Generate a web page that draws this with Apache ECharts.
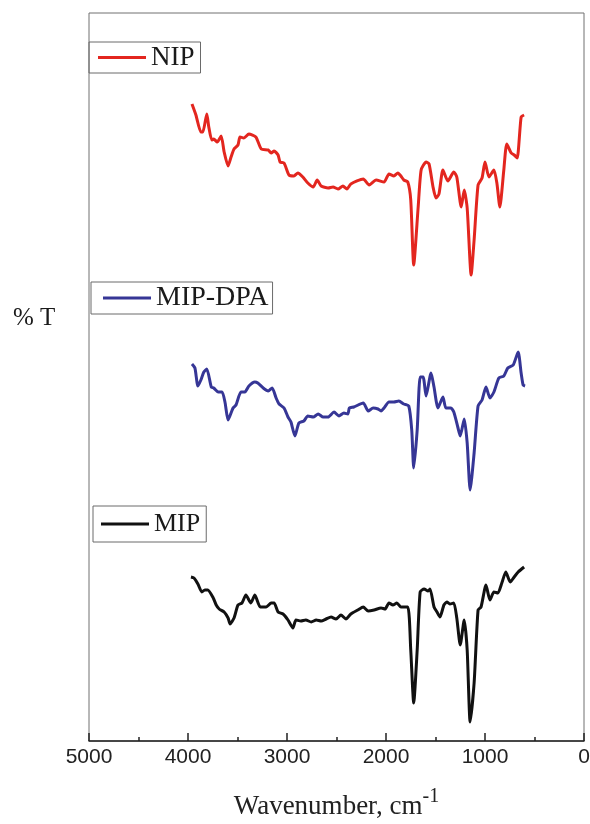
<!DOCTYPE html>
<html>
<head>
<meta charset="utf-8">
<script src="https://cdn.jsdelivr.net/npm/echarts@6/dist/echarts.min.js"></script>
<style>
  html, body { margin: 0; padding: 0; background: #fff; }
  #chart { width: 590px; height: 824px; }
</style>
</head>
<body>
<div id="chart"></div>
<script>
// wavenumber (cm-1) and offset %T readings, one pair of arrays per spectrum
var nipWn = [3960, 3920, 3870, 3850, 3810, 3790, 3760, 3740, 3705, 3665, 3635, 3595, 3565, 3535, 3495, 3475, 3435, 3385, 3315, 3260, 3190, 3160, 3130, 3090, 3070, 3030, 2980, 2930, 2890, 2840, 2790, 2735, 2695, 2655, 2585, 2535, 2485, 2435, 2395, 2355, 2230, 2170, 2100, 2020, 1970, 1920, 1880, 1850, 1820, 1780, 1750, 1720, 1675, 1645, 1595, 1565, 1525, 1495, 1465, 1425, 1375, 1315, 1285, 1240, 1210, 1180, 1140, 1110, 1070, 1030, 1000, 960, 910, 880, 850, 810, 780, 735, 705, 675, 635, 605];
var nipT = [63.7, 62.6, 60.9, 60.9, 62.7, 61.4, 60.1, 60.2, 59.9, 60.5, 58.9, 57.5, 58.4, 59.2, 59.6, 60.4, 60.3, 60.7, 60.4, 59.2, 59.1, 58.8, 59.0, 58.6, 57.9, 57.8, 56.6, 56.5, 56.8, 56.4, 55.8, 55.4, 56.1, 55.5, 55.3, 55.4, 55.2, 55.5, 55.2, 55.7, 56.2, 55.6, 56.1, 55.9, 56.7, 56.5, 56.8, 56.5, 56.1, 55.9, 54.1, 47.6, 53.4, 57.1, 57.9, 57.7, 55.4, 54.3, 54.7, 57.1, 56.0, 56.9, 56.4, 53.4, 55.1, 53.3, 46.6, 50.1, 55.6, 56.3, 57.9, 56.4, 57.1, 55.8, 53.4, 57.1, 59.7, 58.8, 58.6, 58.3, 62.4, 62.6];

var dpaWn = [3960, 3930, 3900, 3870, 3840, 3810, 3765, 3740, 3695, 3655, 3625, 3595, 3545, 3515, 3465, 3425, 3385, 3325, 3295, 3240, 3190, 3150, 3110, 3080, 3030, 2990, 2960, 2920, 2880, 2830, 2790, 2735, 2685, 2635, 2585, 2525, 2475, 2425, 2385, 2370, 2325, 2230, 2180, 2130, 2080, 2050, 2020, 1970, 1920, 1870, 1820, 1770, 1740, 1720, 1685, 1655, 1625, 1595, 1545, 1515, 1475, 1425, 1395, 1345, 1315, 1275, 1250, 1210, 1180, 1150, 1110, 1070, 1030, 990, 950, 910, 860, 810, 770, 715, 665, 635, 615, 595];
var dpaT = [37.7, 37.3, 35.5, 36.1, 36.9, 37.2, 35.4, 35.3, 34.9, 34.9, 33.8, 32.1, 33.3, 33.6, 34.9, 34.9, 35.5, 35.9, 35.8, 35.3, 35.0, 35.3, 34.3, 33.7, 33.3, 32.4, 31.9, 30.5, 31.8, 32.0, 32.5, 32.4, 32.7, 32.4, 32.4, 32.9, 32.5, 32.8, 32.7, 33.3, 33.4, 33.8, 33.0, 33.3, 33.2, 33.0, 33.3, 33.9, 33.9, 34.0, 33.7, 33.5, 31.1, 27.3, 31.1, 36.4, 36.4, 34.5, 36.8, 35.4, 33.3, 34.4, 33.3, 33.3, 32.9, 31.4, 30.5, 32.2, 29.8, 25.1, 28.8, 33.5, 34.1, 35.4, 34.3, 34.9, 36.3, 36.5, 37.3, 37.6, 38.9, 36.8, 35.6, 35.5];

var mipWn = [3970, 3940, 3900, 3860, 3830, 3800, 3745, 3715, 3685, 3635, 3595, 3575, 3535, 3495, 3455, 3415, 3365, 3325, 3270, 3210, 3160, 3130, 3090, 3040, 2990, 2940, 2910, 2860, 2810, 2755, 2705, 2655, 2605, 2555, 2505, 2455, 2405, 2355, 2285, 2230, 2180, 2120, 2050, 2010, 1970, 1930, 1890, 1850, 1780, 1750, 1720, 1685, 1655, 1615, 1575, 1555, 1515, 1485, 1455, 1415, 1385, 1355, 1315, 1285, 1250, 1210, 1180, 1150, 1110, 1070, 1040, 990, 950, 910, 870, 830, 790, 745, 705, 665, 605];
var mipT = [16.4, 16.3, 15.7, 14.9, 15.1, 15.1, 14.3, 13.6, 13.2, 12.9, 12.3, 11.7, 12.3, 13.6, 13.8, 14.6, 13.8, 14.6, 13.4, 13.4, 13.8, 13.8, 12.9, 12.7, 12.1, 11.3, 12.1, 12.0, 12.1, 11.9, 12.1, 12.0, 12.2, 12.4, 12.2, 12.6, 12.2, 12.7, 13.1, 13.4, 13.0, 13.1, 13.3, 13.2, 13.8, 13.6, 13.8, 13.4, 13.4, 9.1, 3.8, 9.1, 14.9, 15.2, 15.0, 15.2, 13.4, 12.9, 12.4, 13.6, 13.9, 13.7, 13.8, 12.3, 9.6, 12.1, 9.1, 1.9, 5.8, 13.1, 13.4, 15.6, 14.1, 14.9, 14.8, 15.8, 16.9, 15.9, 16.4, 16.9, 17.4];

var xTicks = [5000, 4000, 3000, 2000, 1000, 0];

function pairs(wn, t) {
  var out = [];
  for (var i = 0; i < wn.length; i++) out.push([wn[i], t[i]]);
  return out;
}

var serif = "'Liberation Serif', 'Times New Roman', serif";

function legendBox(name, left, top, pad, size) {
  return {
    data: [name],
    left: left,
    top: top,
    orient: 'horizontal',
    icon: 'rect',
    itemWidth: 48,
    itemHeight: 3,
    padding: pad,
    borderColor: '#6a6a6a',
    borderWidth: 1,
    borderRadius: 0,
    selectedMode: false,
    textStyle: { fontFamily: serif, fontSize: size, color: '#1a1a1a' }
  };
}

function lineSeries(name, data, color) {
  return {
    name: name,
    type: 'line',
    data: data,
    showSymbol: false,
    symbol: 'none',
    smooth: 0.2,
    lineStyle: { color: color, width: 3 },
    itemStyle: { color: color },
    animation: false
  };
}

var myChart = echarts.init(document.getElementById('chart'), null, { renderer: 'canvas' });

var option = {
  backgroundColor: '#ffffff',
  animation: false,
  grid: {
    left: 89, right: 6, top: 13, bottom: 83,
    outerBoundsMode: 'none',
    containLabel: false,
    show: true,
    borderColor: '#707070',
    borderWidth: 1
  },
  legend: [
    legendBox('NIP', 89, 42, [2, 6, 2, 9], 27),
    legendBox('MIP-DPA', 91, 282, [2, 4, 2, 12], 28),
    legendBox('MIP', 93, 506, [5, 6, 5, 8], 26)
  ],
  xAxis: {
    type: 'value',
    min: 0,
    max: 5000,
    interval: 1000,
    inverse: true,
    axisLine: { show: true, lineStyle: { color: '#222', width: 1.5 } },
    axisTick: { show: true, inside: true, length: 8, lineStyle: { color: '#222', width: 1.5 } },
    minorTick: { show: true, splitNumber: 2, length: 4, lineStyle: { color: '#222', width: 1.5 } },
    splitLine: { show: false },
    axisLabel: {
      margin: 6,
      fontFamily: "'Liberation Sans', Arial, sans-serif",
      fontSize: 21,
      color: '#222',
      formatter: function (v) { return String(v); }
    },
    name: '{a|Wavenumber, cm}{b|-1}',
    nameLocation: 'middle',
    nameGap: 46,
    nameTextStyle: {
      rich: {
        a: { fontFamily: serif, fontSize: 27, color: '#222' },
        b: { fontFamily: serif, fontSize: 20, color: '#222', padding: [0, 0, 20, 0] }
      }
    }
  },
  yAxis: {
    type: 'value',
    min: 0,
    max: 72.8,
    axisLine: { show: false },
    axisTick: { show: false },
    axisLabel: { show: false },
    splitLine: { show: false }
  },
  graphic: [
    {
      type: 'text',
      left: 13,
      top: 306,
      style: { text: '% T', fontFamily: serif, fontSize: 25, fill: '#1a1a1a' }
    }
  ],
  series: [
    lineSeries('NIP', pairs(nipWn, nipT), '#e3261f'),
    lineSeries('MIP-DPA', pairs(dpaWn, dpaT), '#363696'),
    lineSeries('MIP', pairs(mipWn, mipT), '#111111')
  ]
};

myChart.setOption(option);
</script>
</body>
</html>
